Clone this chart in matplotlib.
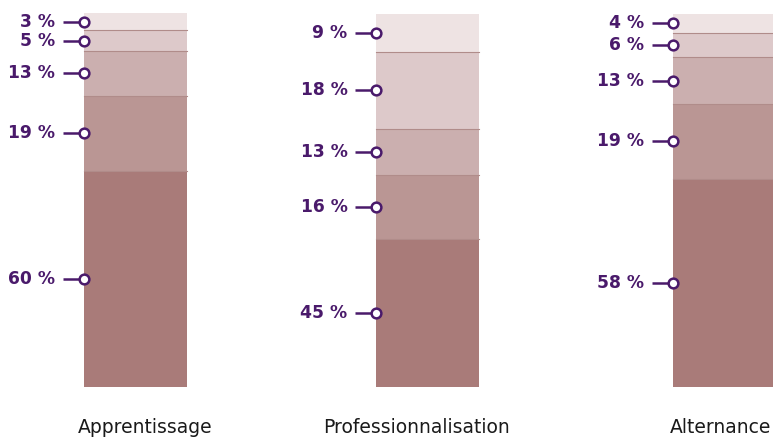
import matplotlib
matplotlib.use("Agg")
import matplotlib.pyplot as plt

categories = ["Apprentissage", "Professionnalisation", "Alternance"]
# segment heights (bottom to top), as drawn
apprentissage = [57.9, 20.2, 11.8, 5.7, 4.5]
professionnalisation = [39.8, 17.1, 12.3, 20.6, 10.2]
alternance = [55.7, 20.2, 12.4, 6.5, 5.2]
# labels shown
labels_apprentissage = ["60 %", "19 %", "13 %", "5 %", "3 %"]
labels_professionnalisation = ["45 %", "16 %", "13 %", "18 %", "9 %"]
labels_alternance = ["58 %", "19 %", "13 %", "6 %", "4 %"]

series = [apprentissage, professionnalisation, alternance]
labels = [labels_apprentissage, labels_professionnalisation, labels_alternance]
colors = ["#A97B79", "#BA9694", "#CBAFAF", "#DDC9CA", "#EEE3E3"]
edge = "#B08C8A"
purple = "#4A1A6B"

W, H = 773, 437
fig = plt.figure(figsize=(W / 100, H / 100), dpi=100)
ax = fig.add_axes([0, 0, 1, 1])
ax.axis("off")

px_per_x = 294.5
x0_px = 135.5
ax.set_xlim(-x0_px / px_per_x, (W - x0_px) / px_per_x)
px_per_y = 373.6 / 100
bottom_px = H - 387.3
ax.set_ylim(-bottom_px / px_per_y, 100 + 13.7 / px_per_y)

positions = [0, 0.993, 2]
width = 103 / px_per_x
line_len = 21 / px_per_x
text_gap = 29 / px_per_x
label_offsets = [10 / px_per_x, -11 / px_per_x, -4 / px_per_x]

for i, (vals, labs) in enumerate(zip(series, labels)):
    base = 0
    xc = positions[i]
    left = xc - width / 2
    for k, (v, lab, c) in enumerate(zip(vals, labs, colors)):
        ax.bar(xc, v, width=width, bottom=base, color=c, linewidth=0, zorder=2)
        if k < len(vals) - 1:
            ax.plot([left, left + width], [base + v, base + v], color=edge,
                    lw=0.8, zorder=2.5)
        mid = base + v / 2
        ax.plot([left - line_len, left], [mid, mid], color=purple, lw=1.8,
                zorder=3, solid_capstyle="butt")
        ax.plot([left], [mid], marker="o", ms=7, mfc="white", mec=purple,
                mew=1.8, zorder=4)
        ax.text(left - text_gap, mid, lab, ha="right", va="center",
                fontsize=12.3, fontweight="bold", color=purple,
                family="DejaVu Sans")
        base += v
    ax.text(xc + label_offsets[i], -10.8, categories[i], ha="center",
            va="center", fontsize=13.5, color="#1a1a1a", family="DejaVu Sans")

fig.savefig("out.png", dpi=100)
